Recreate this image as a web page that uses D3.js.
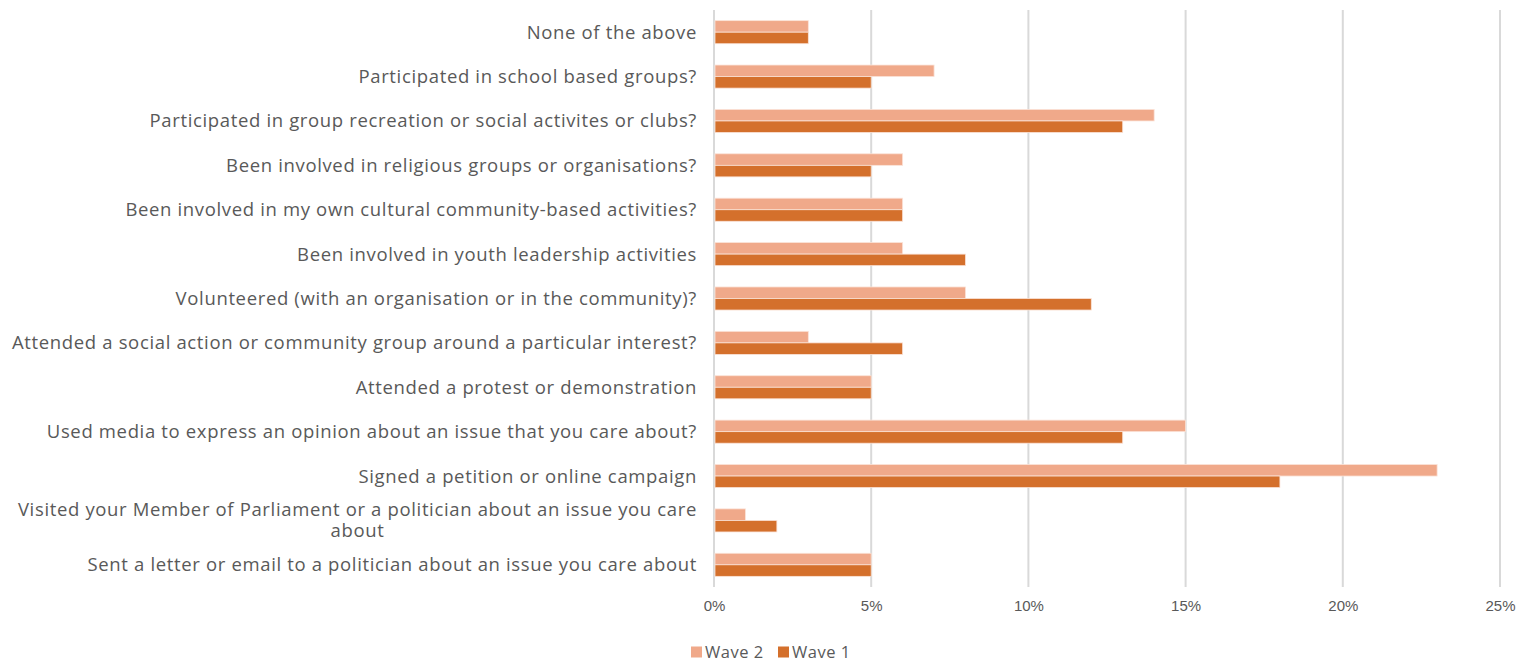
<!DOCTYPE html>
<html>
<head>
<meta charset="utf-8">
<script src="https://cdn.jsdelivr.net/npm/d3@7"></script>
<style>
  html, body { margin: 0; padding: 0; background: #fff; }
  svg { display: block; }
</style>
</head>
<body>
<svg id="chart" width="1531" height="664"></svg>
<script>
// Activities, listed top to bottom
const categories = [
  "None of the above",
  "Participated in school based groups?",
  "Participated in group recreation or social activites or clubs?",
  "Been involved in religious groups or organisations?",
  "Been involved in my own cultural community-based activities?",
  "Been involved in youth leadership activities",
  "Volunteered (with an organisation or in the community)?",
  "Attended a social action or community group around a particular interest?",
  "Attended a protest or demonstration",
  "Used media to express an opinion about an issue that you care about?",
  "Signed a petition or online campaign",
  "Visited your Member of Parliament or a politician about an issue you care about",
  "Sent a letter or email to a politician about an issue you care about"
];
// Percent of respondents
const wave2 = [3, 7, 14, 6, 6, 6, 8, 3, 5, 15, 23, 1, 5];
const wave1 = [3, 5, 13, 5, 6, 8, 12, 6, 5, 13, 18, 2, 5];
const seriesNames = ["Wave 2", "Wave 1"];
const tickValues = [0, 5, 10, 15, 20, 25];

const colors = { "Wave 2": "#F0A98A", "Wave 1": "#D4702C" };
const textColor = "#595959";
const labelFont = "'Open Sans', 'Noto Sans', sans-serif";
const tickFont = "'Liberation Sans Narrow', 'Liberation Sans', sans-serif";

const svg = d3.select("#chart");
const margin = { left: 714, right: 31, top: 10, bottom: 77 };
const W = 1531, H = 664;

const x = d3.scaleLinear().domain([0, 25]).range([margin.left, W - margin.right]);
const y = d3.scaleBand().domain(categories).range([margin.top, H - margin.bottom]).paddingInner(0.48).paddingOuter(0.24);
const ySeries = d3.scaleBand().domain(seriesNames).range([0, y.bandwidth()]);

// vertical gridlines
svg.append("g")
  .selectAll("line")
  .data(tickValues)
  .join("line")
  .attr("x1", d => x(d)).attr("x2", d => x(d))
  .attr("y1", margin.top).attr("y2", H - margin.bottom)
  .attr("stroke", "#D9D9D9")
  .attr("stroke-width", 2);

// x axis labels
const xAxis = d3.axisBottom(x).tickValues(tickValues).tickFormat(d => d + "%").tickSize(0).tickPadding(0);
const xg = svg.append("g").attr("transform", `translate(0,${H - margin.bottom + 13})`).call(xAxis);
xg.select(".domain").remove();
xg.selectAll("text")
  .attr("font-family", tickFont)
  .attr("font-size", 15)
  .attr("fill", textColor);

// bars
const rows = categories.map((c, i) => ({ cat: c, "Wave 2": wave2[i], "Wave 1": wave1[i] }));
const groups = svg.append("g").selectAll("g")
  .data(rows)
  .join("g")
  .attr("transform", d => `translate(0,${y(d.cat)})`);

groups.selectAll("rect")
  .data(d => seriesNames.map(s => ({ s, v: d[s] })))
  .join("rect")
  .attr("x", x(0) + 1)
  .attr("y", d => ySeries(d.s))
  .attr("width", d => x(d.v) - x(0) - 1)
  .attr("height", ySeries.bandwidth())
  .attr("fill", d => colors[d.s])
  .attr("stroke", "#FBE3D8")
  .attr("stroke-width", 0.8);

// category labels (wrapped, lines centred, block right-aligned)
const labelRight = 697;
const maxLabelWidth = 695;
const labelG = svg.append("g");
categories.forEach(cat => {
  const t = labelG.append("text")
    .attr("font-family", labelFont)
    .attr("font-size", 18.5)
    .attr("letter-spacing", 0.65)
    .attr("fill", textColor);
  // greedy wrapping by measured width
  const words = cat.split(" ");
  const lines = [];
  let cur = [];
  const probe = t.append("tspan");
  words.forEach(w => {
    const test = cur.concat([w]).join(" ");
    probe.text(test);
    if (probe.node().getComputedTextLength() > maxLabelWidth && cur.length) {
      lines.push(cur.join(" "));
      cur = [w];
    } else {
      cur.push(w);
    }
  });
  lines.push(cur.join(" "));
  probe.remove();
  // widest line sets the block
  let maxW = 0;
  lines.forEach(l => {
    const p = t.append("tspan").text(l);
    maxW = Math.max(maxW, p.node().getComputedTextLength());
    p.remove();
  });
  const cx = labelRight - maxW / 2;
  const lh = 21;
  const cy = y(cat) + y.bandwidth() / 2;
  const y0 = cy - (lines.length - 1) * lh / 2;
  t.attr("text-anchor", "middle");
  lines.forEach((l, i) => {
    t.append("tspan")
      .attr("x", cx)
      .attr("y", y0 + i * lh)
      .attr("dy", "0.35em")
      .text(l);
  });
});

// legend
const legend = svg.append("g").attr("transform", "translate(691,652)");
const legendItems = legend.selectAll("g")
  .data(seriesNames)
  .join("g")
  .attr("transform", (d, i) => `translate(${i * 87},0)`);
legendItems.append("rect")
  .attr("x", 0).attr("y", -5.5)
  .attr("width", 11).attr("height", 11)
  .attr("fill", d => colors[d]);
legendItems.append("text")
  .attr("x", 14).attr("y", 0).attr("dy", "0.35em")
  .attr("font-family", labelFont)
  .attr("font-size", 16.5)
  .attr("letter-spacing", 0.5)
  .attr("fill", textColor)
  .text(d => d);
</script>
</body>
</html>
